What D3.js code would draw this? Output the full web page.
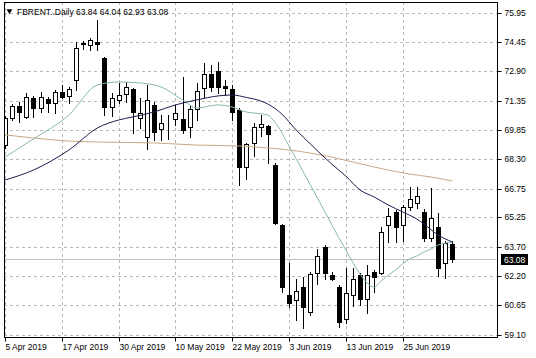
<!DOCTYPE html>
<html>
<head>
<meta charset="utf-8">
<script src="https://cdn.jsdelivr.net/npm/d3@7"></script>
<style>
  html, body { margin: 0; padding: 0; background: #ffffff; }
  svg { display: block; }
  text { font-family: "Liberation Sans", Arial, sans-serif; }
</style>
</head>
<body>
<svg id="chart" width="536" height="358"></svg>
<script>
// ---------------- DATA ----------------
const symbol = "FBRENT..Daily";
const dates = [
  "2019-04-05","2019-04-08","2019-04-09","2019-04-10","2019-04-11","2019-04-12","2019-04-15","2019-04-16",
  "2019-04-17","2019-04-18","2019-04-22","2019-04-23","2019-04-24","2019-04-25","2019-04-26","2019-04-29",
  "2019-04-30","2019-05-01","2019-05-02","2019-05-03","2019-05-06","2019-05-07","2019-05-08","2019-05-09",
  "2019-05-10","2019-05-13","2019-05-14","2019-05-15","2019-05-16","2019-05-17","2019-05-20","2019-05-21",
  "2019-05-22","2019-05-23","2019-05-24","2019-05-27","2019-05-28","2019-05-29","2019-05-30","2019-05-31",
  "2019-06-03","2019-06-04","2019-06-05","2019-06-06","2019-06-07","2019-06-10","2019-06-11","2019-06-12",
  "2019-06-13","2019-06-14","2019-06-17","2019-06-18","2019-06-19","2019-06-20","2019-06-21","2019-06-24",
  "2019-06-25","2019-06-26","2019-06-27","2019-06-28","2019-07-01","2019-07-02","2019-07-03","2019-07-04"
];
const opens = [
  69.04,70.46,71.08,70.51,71.50,70.98,71.45,71.24, 71.82,71.61,72.44,74.33,74.28,74.43,73.60,71.03,
  71.40,71.71,71.97,70.46,69.46,71.14,69.88,70.22, 70.40,70.40,69.98,70.93,72.03,72.76,72.92,72.13,
  71.97,70.87,67.89,69.15,69.98,70.04,68.00,64.86, 61.19,60.93,61.61,60.30,62.34,63.70,62.24,61.61,
  59.94,61.19,62.24,60.98,62.40,62.34,64.86,65.54, 64.86,65.80,66.01,65.54,64.18,64.75,62.87,63.84
];
const highs = [
  70.56,71.19,71.29,71.76,71.61,71.82,71.55,71.92, 72.18,72.08,74.43,74.48,74.64,75.58,73.65,71.76,
  72.29,72.34,72.03,71.50,72.18,71.29,70.61,70.61, 71.14,72.60,71.14,72.29,73.33,73.23,73.39,72.44,
  72.18,70.98,69.15,70.19,70.61,70.09,68.10,64.90, 62.87,62.03,62.13,62.40,63.60,63.81,62.40,61.72,
  62.61,62.61,62.34,62.76,62.50,64.75,65.75,65.64, 65.90,66.84,66.84,65.69,66.79,65.48,64.02,64.04
];
const lows = [
  68.89,70.35,70.25,70.46,70.51,70.77,70.77,70.72, 71.50,71.24,71.92,74.07,74.01,74.01,70.61,70.56,
  71.24,71.29,69.67,69.93,68.83,69.30,69.30,69.36, 70.09,69.67,69.46,70.35,71.55,71.87,71.76,71.66,
  70.35,66.95,67.26,68.47,69.51,68.10,64.91,61.35, 60.56,59.89,59.47,60.15,61.77,62.03,61.98,59.52,
  59.73,60.62,60.67,60.25,61.35,62.30,63.97,63.97, 64.02,65.64,65.75,64.02,64.02,62.19,62.08,62.93
];
const closes = [
  70.46,71.08,70.77,71.55,70.98,71.55,71.24,71.82, 71.55,71.97,74.12,74.38,74.54,74.33,71.03,71.50,
  71.66,72.08,70.77,70.72,71.40,69.72,70.19,70.25, 70.72,69.83,70.93,71.87,72.76,72.08,72.08,72.03,
  70.77,67.89,69.10,69.98,70.14,69.62,64.96,61.61, 60.77,61.40,60.56,62.29,63.23,62.34,62.03,59.78,
  61.30,62.03,60.98,62.24,62.13,64.49,65.33,64.75, 65.80,66.22,66.37,64.18,65.22,62.61,63.91,63.08
];

// Moving averages (bar index, price)
const maFastBars   = [0,4,9,13,16,19,22,25,27,30,32,34,35,37,38,40,44,48,50,51,52,53,54,55,56,57,58,59,60,61,62,63];
const maFastValues = [68.41,69.36,70.61,72.18,72.34,72.29,72.08,71.40,70.98,71.14,71.03,70.77,70.72,70.61,70.25,68.99,66.27,63.55,62.29,61.82,61.61,61.93,62.24,62.50,62.82,63.08,63.23,63.44,63.60,63.81,63.91,63.97];

const maMidBars    = [0,4,9,13,16,18,21,24,27,30,32,34,36,37,39,41,43,46,48,50,52,54,56,58,59,61,63];
const maMidValues  = [67.21,67.73,68.78,69.93,70.35,70.51,70.77,71.14,71.40,71.61,71.66,71.53,71.35,71.19,70.66,69.83,69.10,68.05,67.42,66.69,66.32,65.90,65.54,65.17,64.91,64.33,63.97];

const maSlowBars   = [0,4,9,13,21,27,33,37,40,43,46,49,54,57,60,63];
const maSlowValues = [69.57,69.41,69.25,69.20,69.15,69.04,68.99,68.89,68.78,68.62,68.41,68.15,67.73,67.52,67.37,67.16];

const priceTicks = [75.95,74.45,72.90,71.35,69.85,68.30,66.75,65.25,63.70,62.20,60.65,59.10];
const dateTicks  = ["2019-04-05","2019-04-17","2019-04-30","2019-05-10","2019-05-22","2019-06-03","2019-06-13","2019-06-25"];

// ---------------- LAYOUT ----------------
const W = 536, H = 358;
const plot = { left: 4, right: 497, top: 2, bottom: 337 };
const colors = {
  grid: "#b8b8b8", frame: "#000000", fast: "#86b8a6", mid: "#1c1c52", slow: "#c8a884",
  priceLine: "#c0c0c0", text: "#000000"
};

const svg = d3.select("#chart");

const x = d3.scalePoint().domain(dates).range([5, 452.3]);
const y = d3.scaleLinear().domain([59.10, 75.95]).range([335, 13]);

const parse = d3.timeParse("%Y-%m-%d");
const fmtDate = d3.timeFormat("%-d %b %Y");

svg.append("defs").append("clipPath").attr("id", "plotclip")
  .append("rect")
  .attr("x", plot.left + 0.5).attr("y", plot.top + 0.5)
  .attr("width", plot.right - plot.left - 1).attr("height", plot.bottom - plot.top - 1);

// grid
const grid = svg.append("g");
grid.selectAll("line.h").data(priceTicks).join("line")
  .attr("x1", plot.left).attr("x2", plot.right)
  .attr("y1", d => Math.round(y(d)) + 0.5).attr("y2", d => Math.round(y(d)) + 0.5)
  .attr("stroke", colors.grid).attr("stroke-dasharray", "3,3");
grid.selectAll("line.v").data(dateTicks).join("line")
  .attr("x1", d => Math.round(x(d)) + 0.5).attr("x2", d => Math.round(x(d)) + 0.5)
  .attr("y1", plot.top).attr("y2", plot.bottom)
  .attr("stroke", colors.grid).attr("stroke-dasharray", "3,3");

const g = svg.append("g").attr("clip-path", "url(#plotclip)");

// current price line
const last = closes.length - 1;
g.append("line")
  .attr("x1", plot.left).attr("x2", plot.right)
  .attr("y1", Math.round(y(closes[last])) + 0.5).attr("y2", Math.round(y(closes[last])) + 0.5)
  .attr("stroke", colors.priceLine);

// candles
const bars = dates.map((d, i) => ({ d, o: opens[i], h: highs[i], l: lows[i], c: closes[i] }));
const cg = g.selectAll("g.candle").data(bars).join("g");
cg.append("line")
  .attr("x1", b => Math.round(x(b.d)) + 0.5).attr("x2", b => Math.round(x(b.d)) + 0.5)
  .attr("y1", b => Math.round(y(b.h))).attr("y2", b => Math.round(y(b.l)) + 1)
  .attr("stroke", "#000");
cg.append("rect")
  .attr("x", b => Math.round(x(b.d)) - 2 + 0.5)
  .attr("y", b => Math.round(y(Math.max(b.o, b.c))) + 0.5)
  .attr("width", 4)
  .attr("height", b => Math.max(0, Math.round(y(Math.min(b.o, b.c))) - Math.round(y(Math.max(b.o, b.c)))))
  .attr("fill", b => b.c >= b.o ? "#ffffff" : "#000000")
  .attr("stroke", "#000");

// moving averages
function maLine(barsIdx, vals, color) {
  const pts = barsIdx.map((bi, k) => [x(dates[bi]), y(vals[k])]);
  g.append("path").datum(pts)
    .attr("d", d3.line().curve(d3.curveMonotoneX))
    .attr("fill", "none").attr("stroke", color).attr("stroke-width", 1);
}
maLine(maSlowBars, maSlowValues, colors.slow);
maLine(maFastBars, maFastValues, colors.fast);
maLine(maMidBars, maMidValues, colors.mid);

// frame
svg.append("rect")
  .attr("x", plot.left + 0.5).attr("y", plot.top + 0.5)
  .attr("width", plot.right - plot.left).attr("height", plot.bottom - plot.top)
  .attr("fill", "none").attr("stroke", colors.frame);

// right price axis
const yAxis = d3.axisRight(y).tickValues(priceTicks).tickSize(4).tickPadding(3).tickFormat(d3.format(".2f"));
const ya = svg.append("g").attr("transform", `translate(${plot.right + 0.5},0.5)`).call(yAxis);
ya.select(".domain").remove();
ya.selectAll(".tick").attr("transform", d => `translate(0,${Math.round(y(d))})`);
ya.selectAll("text").attr("font-size", "8.5px").attr("font-family", "Liberation Sans, Arial, sans-serif").attr("fill", colors.text);

// current price label
const cy = Math.round(y(closes[last]));
svg.append("rect").attr("x", 501).attr("y", cy - 5).attr("width", 27).attr("height", 11).attr("fill", "#000");
svg.append("text").attr("x", 504).attr("y", cy + 3.5).attr("font-size", "8.5px").attr("fill", "#fff")
  .text(d3.format(".2f")(closes[last]));

// bottom date axis
const xAxis = d3.axisBottom(x).tickValues(dateTicks).tickSize(4).tickPadding(2).tickFormat(d => fmtDate(parse(d)));
const xa = svg.append("g").attr("transform", `translate(0.5,${plot.bottom + 0.5})`).call(xAxis);
xa.select(".domain").remove();
xa.selectAll(".tick").attr("transform", d => `translate(${Math.round(x(d))},0)`);
xa.selectAll("text").attr("text-anchor", "start").attr("x", 0).attr("dy", "0.71em")
  .attr("font-size", "8.5px").attr("font-family", "Liberation Sans, Arial, sans-serif").attr("fill", colors.text);

// title
svg.append("path").attr("d", d3.symbol().type(d3.symbolTriangle).size(14)).attr("transform", "translate(9.5,11) rotate(180)").attr("fill", "#000");
const f2 = d3.format(".2f");
svg.append("text").attr("x", 17).attr("y", 15).attr("font-size", "8.5px").attr("fill", colors.text)
  .text(`${symbol}  ${f2(opens[last])} ${f2(highs[last])} ${f2(lows[last])} ${f2(closes[last])}`);
</script>
</body>
</html>
